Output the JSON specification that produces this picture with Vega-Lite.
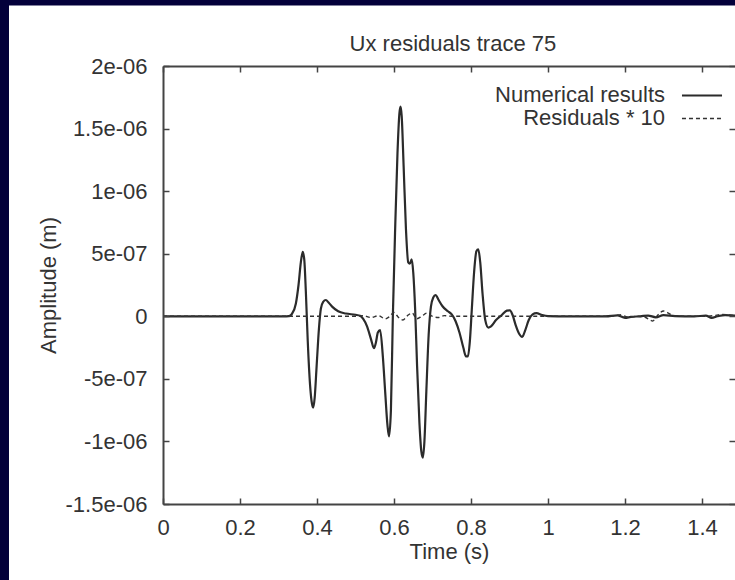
{
  "$schema": "https://vega.github.io/schema/vega-lite/v6.json",
  "width": 572,
  "height": 438,
  "autosize": {"type": "none"},
  "padding": {"left": 163, "top": 66, "right": 0, "bottom": 76},
  "background": "#03003a",
  "config": {
    "view": {"stroke": null},
    "axis": {"grid": false, "zindex": 1, "domainColor": "#444444", "domainWidth": 2, "tickColor": "#444444", "tickWidth": 1.5, "labelFont": "Liberation Sans", "labelFontSize": 22, "labelColor": "#333333", "titleFont": "Liberation Sans", "titleFontSize": 22, "titleFontWeight": "normal", "titleColor": "#333333", "labelFlush": false, "labelOverlap": false, "labelBound": false}
  },
  "datasets": {
    "num": [
      {"t": 0, "a": 0}, {"t": 0.32, "a": 0}, {"t": 0.327, "a": 0.01e-7}, {"t": 0.335, "a": 0.2e-7}, {"t": 0.345, "a": 1.0e-7}, {"t": 0.352, "a": 2.5e-7}, {"t": 0.358, "a": 4.3e-7}, {"t": 0.363, "a": 5.15e-7}, {"t": 0.367, "a": 4.5e-7}, {"t": 0.371, "a": 2.0e-7}, {"t": 0.376, "a": -2.0e-7}, {"t": 0.382, "a": -5.5e-7}, {"t": 0.387, "a": -7.0e-7}, {"t": 0.39, "a": -7.3e-7}, {"t": 0.394, "a": -6.5e-7}, {"t": 0.399, "a": -4.0e-7}, {"t": 0.405, "a": -1.0e-7}, {"t": 0.41, "a": 0.6e-7}, {"t": 0.416, "a": 1.15e-7}, {"t": 0.423, "a": 1.3e-7}, {"t": 0.43, "a": 1.1e-7}, {"t": 0.44, "a": 0.75e-7}, {"t": 0.455, "a": 0.4e-7}, {"t": 0.475, "a": 0.22e-7}, {"t": 0.5, "a": 0.12e-7}, {"t": 0.512, "a": 0.04e-7}, {"t": 0.52, "a": -0.2e-7}, {"t": 0.53, "a": -0.8e-7}, {"t": 0.54, "a": -1.8e-7}, {"t": 0.548, "a": -2.55e-7}, {"t": 0.553, "a": -2.1e-7}, {"t": 0.558, "a": -1.3e-7}, {"t": 0.564, "a": -1.1e-7}, {"t": 0.571, "a": -3.2e-7}, {"t": 0.577, "a": -6.0e-7}, {"t": 0.583, "a": -8.7e-7}, {"t": 0.587, "a": -9.6e-7}, {"t": 0.592, "a": -7.5e-7}, {"t": 0.597, "a": 0.0}, {"t": 0.603, "a": 7.0e-7}, {"t": 0.609, "a": 13.0e-7}, {"t": 0.614, "a": 16.2e-7}, {"t": 0.617, "a": 16.75e-7}, {"t": 0.62, "a": 16.0e-7}, {"t": 0.625, "a": 12.0e-7}, {"t": 0.631, "a": 7.0e-7}, {"t": 0.637, "a": 4.3e-7}, {"t": 0.641, "a": 4.2e-7}, {"t": 0.646, "a": 4.55e-7}, {"t": 0.65, "a": 3.5e-7}, {"t": 0.655, "a": 0.5e-7}, {"t": 0.66, "a": -4.0e-7}, {"t": 0.666, "a": -8.5e-7}, {"t": 0.671, "a": -10.8e-7}, {"t": 0.675, "a": -11.3e-7}, {"t": 0.679, "a": -10.0e-7}, {"t": 0.684, "a": -6.0e-7}, {"t": 0.69, "a": -1.5e-7}, {"t": 0.696, "a": 0.8e-7}, {"t": 0.702, "a": 1.5e-7}, {"t": 0.708, "a": 1.7e-7}, {"t": 0.716, "a": 1.3e-7}, {"t": 0.726, "a": 0.8e-7}, {"t": 0.74, "a": 0.4e-7}, {"t": 0.75, "a": 0.15e-7}, {"t": 0.76, "a": -0.4e-7}, {"t": 0.77, "a": -1.3e-7}, {"t": 0.78, "a": -2.5e-7}, {"t": 0.787, "a": -3.2e-7}, {"t": 0.792, "a": -3.2e-7}, {"t": 0.797, "a": -2.0e-7}, {"t": 0.802, "a": 0.5e-7}, {"t": 0.808, "a": 3.5e-7}, {"t": 0.814, "a": 5.2e-7}, {"t": 0.819, "a": 5.35e-7}, {"t": 0.824, "a": 4.3e-7}, {"t": 0.83, "a": 1.8e-7}, {"t": 0.837, "a": -0.3e-7}, {"t": 0.845, "a": -0.9e-7}, {"t": 0.852, "a": -0.8e-7}, {"t": 0.865, "a": -0.3e-7}, {"t": 0.88, "a": 0.1e-7}, {"t": 0.893, "a": 0.45e-7}, {"t": 0.901, "a": 0.48e-7}, {"t": 0.908, "a": 0.1e-7}, {"t": 0.916, "a": -0.7e-7}, {"t": 0.925, "a": -1.4e-7}, {"t": 0.933, "a": -1.65e-7}, {"t": 0.941, "a": -1.1e-7}, {"t": 0.95, "a": -0.3e-7}, {"t": 0.96, "a": 0.15e-7}, {"t": 0.97, "a": 0.25e-7}, {"t": 0.985, "a": 0.1e-7}, {"t": 1.0, "a": 0.02e-7}, {"t": 1.05, "a": 0}, {"t": 1.15, "a": 0}, {"t": 1.18, "a": 0.08e-7}, {"t": 1.2, "a": -0.12e-7}, {"t": 1.215, "a": -0.05e-7}, {"t": 1.24, "a": 0.0}, {"t": 1.26, "a": 0.06e-7}, {"t": 1.28, "a": -0.08e-7}, {"t": 1.3, "a": 0.1e-7}, {"t": 1.33, "a": 0.02e-7}, {"t": 1.38, "a": 0.0}, {"t": 1.41, "a": 0.05e-7}, {"t": 1.425, "a": -0.12e-7}, {"t": 1.44, "a": 0.0}, {"t": 1.46, "a": 0.1e-7}, {"t": 1.49, "a": 0.05e-7}
    ],
    "res": [
      {"t": 0, "a": 0}, {"t": 0.5, "a": 0}, {"t": 0.52, "a": 0.05e-7}, {"t": 0.54, "a": -0.1e-7}, {"t": 0.56, "a": 0.05e-7}, {"t": 0.577, "a": -0.2e-7}, {"t": 0.587, "a": -0.05e-7}, {"t": 0.6, "a": 0.3e-7}, {"t": 0.612, "a": -0.1e-7}, {"t": 0.623, "a": -0.3e-7}, {"t": 0.635, "a": 0.05e-7}, {"t": 0.647, "a": 0.26e-7}, {"t": 0.659, "a": -0.2e-7}, {"t": 0.672, "a": 0.0}, {"t": 0.685, "a": 0.25e-7}, {"t": 0.7, "a": 0.0}, {"t": 0.715, "a": -0.1e-7}, {"t": 0.73, "a": 0.05e-7}, {"t": 0.75, "a": 0}, {"t": 0.85, "a": 0}, {"t": 1.15, "a": 0}, {"t": 1.175, "a": 0.05e-7}, {"t": 1.19, "a": 0.12e-7}, {"t": 1.2, "a": 0.0}, {"t": 1.21, "a": -0.08e-7}, {"t": 1.23, "a": 0.0}, {"t": 1.25, "a": -0.05e-7}, {"t": 1.265, "a": -0.3e-7}, {"t": 1.272, "a": -0.38e-7}, {"t": 1.28, "a": -0.1e-7}, {"t": 1.29, "a": 0.25e-7}, {"t": 1.3, "a": 0.42e-7}, {"t": 1.31, "a": 0.3e-7}, {"t": 1.325, "a": 0.05e-7}, {"t": 1.35, "a": 0.0}, {"t": 1.4, "a": 0.0}, {"t": 1.43, "a": 0.05e-7}, {"t": 1.45, "a": 0.15e-7}, {"t": 1.47, "a": 0.1e-7}, {"t": 1.49, "a": 0.05e-7}
    ]
  },
  "layer": [
    {
      "data": {"values": [{"panel": "page"}]},
      "mark": {"type": "rect", "color": "white", "clip": false},
      "encoding": {
        "x": {"datum": -0.4, "type": "quantitative", "scale": {"domain": [0, 1.4857], "nice": false, "zero": false}, "axis": null},
        "x2": {"datum": 1.8},
        "y": {"datum": 2.484e-6, "type": "quantitative", "scale": {"domain": [-1.5e-6, 2e-6], "nice": false, "zero": false}, "axis": null},
        "y2": {"datum": -3e-6}
      }
    },
    {
      "data": {"name": "num"},
      "mark": {"type": "line", "color": "#2b2b2b", "strokeWidth": 2.2, "clip": true, "interpolate": "monotone"},
      "encoding": {
        "x": {"field": "t", "type": "quantitative", "scale": {"domain": [0, 1.4857], "nice": false, "zero": false},
          "axis": {"orient": "bottom", "zindex": 2, "values": [0, 0.2, 0.4, 0.6, 0.8, 1, 1.2, 1.4], "format": "~g", "title": "Time (s)", "tickSize": -6, "labelPadding": 19, "titlePadding": 3}},
        "y": {"field": "a", "type": "quantitative", "scale": {"domain": [-1.5e-6, 2e-6], "nice": false, "zero": false},
          "axis": {"orient": "left", "zindex": 2, "values": [-1.5e-6, -1e-6, -5e-7, 0, 5e-7, 1e-6, 1.5e-6, 2e-6], "labelExpr": "datum.value == 0 ? '0' : (abs(datum.value) < 9e-7 ? round(datum.value * 1e7) + 'e-07' : round(datum.value * 1e7) / 10 + 'e-06')", "title": "Amplitude (m)", "tickSize": -6, "labelPadding": 22, "titlePadding": 5}}
      }
    },
    {
      "data": {"name": "res"},
      "mark": {"type": "line", "color": "#333333", "strokeWidth": 1.4, "strokeDash": [4, 3], "clip": true, "interpolate": "monotone"},
      "encoding": {
        "x": {"field": "t", "type": "quantitative", "scale": {"domain": [0, 1.4857], "nice": false, "zero": false},
          "axis": {"orient": "top", "zindex": 2, "values": [0, 0.2, 0.4, 0.6, 0.8, 1, 1.2, 1.4], "labels": false, "title": null, "tickSize": -6}},
        "y": {"field": "a", "type": "quantitative", "scale": {"domain": [-1.5e-6, 2e-6], "nice": false, "zero": false},
          "axis": {"orient": "right", "zindex": 2, "values": [-1.5e-6, -1e-6, -5e-7, 0, 5e-7, 1e-6, 1.5e-6, 2e-6], "labels": false, "domain": false, "title": null, "tickSize": -6}}
      }
    },
    {
      "data": {"values": [{"label": "Ux residuals trace 75"}]},
      "mark": {"type": "text", "align": "center", "baseline": "alphabetic", "font": "Liberation Sans", "fontSize": 22, "color": "#333333"},
      "encoding": {
        "x": {"datum": 0.753, "type": "quantitative", "scale": {"domain": [0, 1.4857], "nice": false, "zero": false}, "axis": null},
        "y": {"datum": 2.117e-6, "type": "quantitative", "scale": {"domain": [-1.5e-6, 2e-6], "nice": false, "zero": false}, "axis": null},
        "text": {"field": "label"}
      }
    },
    {
      "data": {"values": [{"label": "Numerical results"}]},
      "mark": {"type": "text", "align": "right", "baseline": "middle", "font": "Liberation Sans", "fontSize": 22, "color": "#333333"},
      "encoding": {
        "x": {"datum": 1.304, "type": "quantitative", "scale": {"domain": [0, 1.4857], "nice": false, "zero": false}, "axis": null},
        "y": {"datum": 1.765e-6, "type": "quantitative", "scale": {"domain": [-1.5e-6, 2e-6], "nice": false, "zero": false}, "axis": null},
        "text": {"field": "label"}
      }
    },
    {
      "data": {"values": [{"label": "Residuals * 10"}]},
      "mark": {"type": "text", "align": "right", "baseline": "middle", "font": "Liberation Sans", "fontSize": 22, "color": "#333333"},
      "encoding": {
        "x": {"datum": 1.304, "type": "quantitative", "scale": {"domain": [0, 1.4857], "nice": false, "zero": false}, "axis": null},
        "y": {"datum": 1.581e-6, "type": "quantitative", "scale": {"domain": [-1.5e-6, 2e-6], "nice": false, "zero": false}, "axis": null},
        "text": {"field": "label"}
      }
    },
    {
      "data": {"values": [{"series": "Numerical results"}]},
      "mark": {"type": "rule", "color": "#2b2b2b", "strokeWidth": 2},
      "encoding": {
        "x": {"datum": 1.348, "type": "quantitative", "scale": {"domain": [0, 1.4857], "nice": false, "zero": false}, "axis": null},
        "x2": {"datum": 1.452},
        "y": {"datum": 1.765e-6, "type": "quantitative", "scale": {"domain": [-1.5e-6, 2e-6], "nice": false, "zero": false}, "axis": null}
      }
    },
    {
      "data": {"values": [{"series": "Residuals * 10"}]},
      "mark": {"type": "rule", "color": "#333333", "strokeWidth": 1.4, "strokeDash": [4, 3]},
      "encoding": {
        "x": {"datum": 1.348, "type": "quantitative", "scale": {"domain": [0, 1.4857], "nice": false, "zero": false}, "axis": null},
        "x2": {"datum": 1.452},
        "y": {"datum": 1.581e-6, "type": "quantitative", "scale": {"domain": [-1.5e-6, 2e-6], "nice": false, "zero": false}, "axis": null}
      }
    }
  ],
  "resolve": {"axis": {"x": "independent", "y": "independent"}}
}
